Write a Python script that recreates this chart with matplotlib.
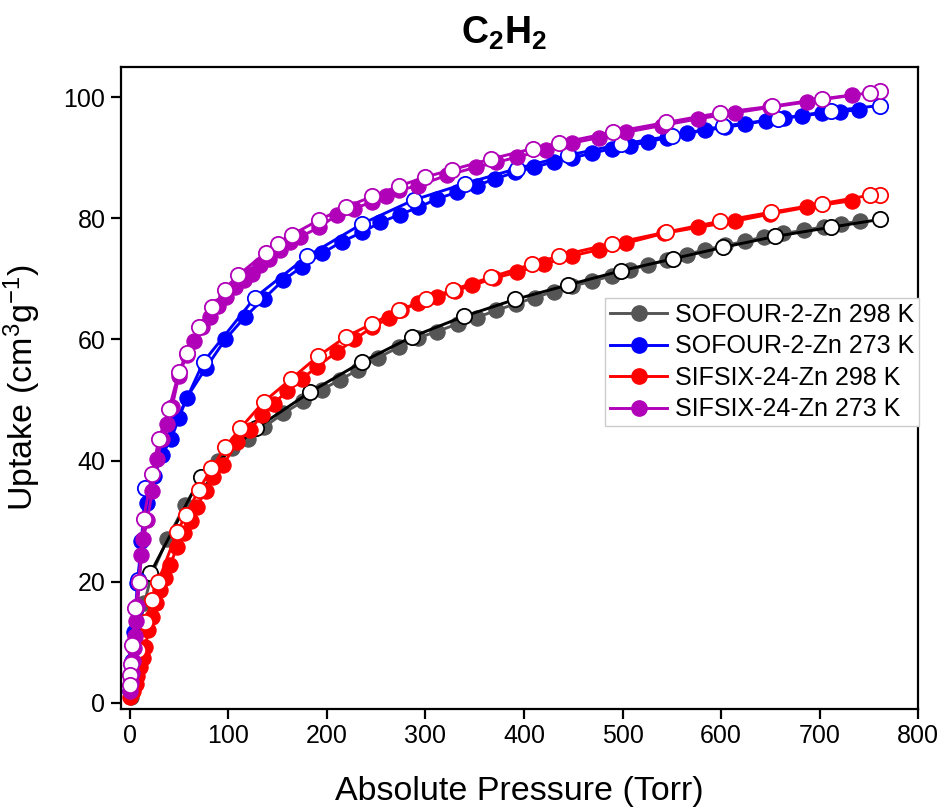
import matplotlib
matplotlib.use("Agg")
import matplotlib.pyplot as plt
from matplotlib.lines import Line2D

plt.rcParams["font.family"] = ["Liberation Sans", "DejaVu Sans"]
plt.rcParams["mathtext.fontset"] = "custom"
plt.rcParams["mathtext.rm"] = "Liberation Sans"
plt.rcParams["mathtext.it"] = "Liberation Sans"
plt.rcParams["mathtext.bf"] = "Liberation Sans:bold"

# =========================
# DATA
# =========================

labels = ["SOFOUR-2-Zn 298 K", "SOFOUR-2-Zn 273 K",
          "SIFSIX-24-Zn 298 K", "SIFSIX-24-Zn 273 K"]
colors = ["#555555", "#0000ff", "#ff0000", "#b000b8"]
des_colors = ["#000000", "#0000ff", "#ff0000", "#b000b8"]

# SOFOUR-2-Zn 298 K
gray_ads_x = [1, 3, 6, 10, 15, 22, 38, 56, 73, 90, 104, 120, 136, 156, 176, 195, 213, 232, 252, 273,
              293, 312, 333, 352, 372, 392, 411, 430, 449, 469, 489, 508, 526, 545, 565, 584, 604,
              624, 643, 663, 684, 704, 722, 741]
gray_ads_y = [1, 4, 8, 12.5, 16.5, 21, 27, 32.6, 37, 40, 42, 43.6, 45.5, 47.8, 49.8, 51.7, 53.3, 55,
              57, 58.7, 60.3, 61.3, 62.6, 63.6, 64.8, 65.9, 66.9, 67.9, 68.8, 69.6, 70.5, 71.5, 72.3,
              73.1, 74, 74.8, 75.5, 76.2, 76.9, 77.5, 78, 78.6, 79.1, 79.5]
gray_des_x = [761, 711, 655, 602, 551, 498, 445, 391, 339, 286, 236, 183, 128, 72, 21]
gray_des_y = [79.8, 78.5, 77.0, 75.2, 73.3, 71.3, 69.0, 66.6, 63.8, 60.4, 56.3, 51.3, 45.3, 37.3, 21.4]

# SOFOUR-2-Zn 273 K
blue_ads_x = [0.5, 1, 2, 3, 4.5, 6, 8, 12, 18, 25, 33, 42, 50, 58, 77, 97, 117, 136, 156, 175,
              195, 215, 236, 254, 274, 293, 312, 332, 352, 371, 391, 410, 430, 449, 469, 489, 508,
              526, 545, 565, 584, 604, 624, 645, 664, 682, 702, 721, 740]
blue_ads_y = [2, 4, 7, 9.5, 11.7, 15.6, 19.8, 26.8, 33, 37.5, 41, 43.5, 47, 50.4, 55.2, 60, 63.7,
              66.7, 69.8, 72, 74.2, 76.1, 77.7, 79.3, 80.6, 81.8, 83.2, 84.3, 85.4, 86.5, 87.6,
              88.4, 89.3, 90, 90.7, 91.5, 92, 92.6, 93.3, 94, 94.5, 95, 95.5, 96.1, 96.5, 96.9,
              97.3, 97.6, 97.9]
blue_des_x = [761, 711, 658, 602, 550, 498, 445, 393, 340, 288, 236, 180, 127, 75, 16, 9]
blue_des_y = [98.6, 97.7, 96.4, 95.2, 93.6, 92.2, 90.4, 88.2, 85.7, 83.0, 79.1, 73.7, 66.9, 56.3,
              35.4, 20.3]

# SIFSIX-24-Zn 298 K
red_ads_x = [0.7, 3, 6, 8, 11, 13.5, 16, 19, 23, 27, 31, 36, 41, 48, 55, 62, 68, 77, 85, 95,
             109, 122, 134, 146, 160, 175, 190, 210, 228, 246, 263, 275, 293, 312, 330, 347, 370,
             393, 420, 449, 476, 504, 542, 577, 614, 650, 687, 733]
red_ads_y = [1, 2, 3.2, 4.5, 5.9, 7.5, 9.2, 12, 14.2, 16.5, 18.6, 20.7, 22.7, 25.7, 28, 30.1,
             32.3, 35, 37.3, 39.3, 43, 45, 47.5, 49.4, 51.5, 53.5, 55.5, 57.9, 60, 62, 63.5, 64.8,
             66, 67, 68, 68.9, 70.1, 71.1, 72.4, 73.8, 74.8, 75.9, 77.5, 78.5, 79.5, 80.7, 81.8,
             82.9]
red_des_x = [761, 751, 702, 651, 599, 544, 489, 436, 408, 367, 328, 301, 273, 246, 219, 191,
             164, 136, 112, 97, 83, 70, 57, 48, 29, 23, 16, 9]
red_des_y = [83.9, 83.8, 82.4, 81.0, 79.5, 77.7, 75.8, 73.8, 72.4, 70.3, 68.2, 66.6, 64.8, 62.6,
             60.4, 57.2, 53.5, 49.7, 45.3, 42.2, 38.7, 35.1, 31.0, 28.2, 20.0, 17.0, 13.4, 8.7]

# SIFSIX-24-Zn 273 K
purple_ads_x = [0.5, 1, 2, 3, 4, 5, 6, 8, 10, 12, 14, 18, 23, 28, 33, 38, 43, 50, 58, 65, 73,
                82, 90, 98, 107, 116, 124, 132, 141, 153, 163, 173, 192, 210, 228, 246, 260, 273,
                293, 322, 351, 372, 393, 422, 449, 476, 504, 540, 577, 614, 650, 687, 733]
purple_ads_y = [2, 3.5, 5, 7, 9, 11, 13.5, 16, 20, 24.5, 27, 30.2, 35, 40.3, 43.5, 46, 48.8, 54,
                57.5, 59.8, 62, 63.7, 65.5, 67, 68.6, 69.8, 70.8, 72.2, 73.3, 74.8, 76, 76.9, 78.5,
                80.5, 81.6, 82.7, 83.6, 84.6, 85.4, 87.1, 88.4, 89.2, 90.1, 91.3, 92.4, 93.3, 94.2,
                95.3, 96.4, 97.4, 98.3, 99.2, 100.3]
purple_des_x = [761, 751, 702, 652, 599, 544, 490, 436, 409, 367, 327, 300, 273, 246, 219, 192,
                165, 151, 138, 110, 97, 84, 70, 58, 50, 40, 29.5, 22.7, 14.2, 9.2, 5.8, 2.4, 1.2,
                0.6, 0.2]
purple_des_y = [101.0, 100.7, 99.7, 98.5, 97.4, 95.8, 94.2, 92.4, 91.5, 89.8, 88.0, 86.8, 85.3,
                83.6, 81.8, 79.7, 77.3, 75.8, 74.3, 70.6, 68.1, 65.3, 62.0, 57.8, 54.6, 48.5, 43.5,
                37.8, 30.4, 20.0, 15.6, 9.5, 6.5, 4.6, 2.9]

ads = [(gray_ads_x, gray_ads_y), (blue_ads_x, blue_ads_y),
       (red_ads_x, red_ads_y), (purple_ads_x, purple_ads_y)]
des = [(gray_des_x, gray_des_y), (blue_des_x, blue_des_y),
       (red_des_x, red_des_y), (purple_des_x, purple_des_y)]

x_ticks = [0, 100, 200, 300, 400, 500, 600, 700, 800]
y_ticks = [0, 20, 40, 60, 80, 100]

# =========================
# PLOT
# =========================

fig = plt.figure(figsize=(9.44, 8.07), dpi=100)
ax = fig.add_axes([0.1279, 0.1214, 0.8449, 0.7959])

ms = 11
lw = 2.1

for i in range(4):
    ax.plot(ads[i][0], ads[i][1], "-o", color=colors[i], lw=lw, ms=ms,
            mfc=colors[i], mec=colors[i], mew=0.8)
    ax.plot(des[i][0], des[i][1], "-o", color=des_colors[i], lw=lw, ms=ms,
            mfc="white", mec=des_colors[i], mew=1.3)

ax.set_xlim(-9, 800)
ax.set_ylim(-1, 105)
ax.set_xticks(x_ticks)
ax.set_yticks(y_ticks)

for sp in ax.spines.values():
    sp.set_linewidth(1.6)
ax.tick_params(direction="out", length=7, width=1.6, labelsize=18, pad=4)

ax.set_xlabel("Absolute Pressure (Torr)", fontsize=24.5)
ax.set_ylabel("Uptake (cm$^{3}$g$^{-1}$)", fontsize=24.5)
ax.xaxis.set_label_coords(0.5, -0.104)
ax.yaxis.set_label_coords(-0.097, 0.5)

fig.text(504 / 944, 1 - 33 / 807, r"$\mathbf{C_2H_2}$", fontsize=27,
         ha="center", va="center")

handles = [Line2D([], [], color=colors[i], lw=lw, marker="o", ms=ms,
                  mfc=colors[i], mec=colors[i]) for i in range(4)]
leg = ax.legend(handles, labels, loc="upper left", bbox_to_anchor=(0.607, 0.640),
                borderaxespad=0, fontsize=18, handlelength=2.3, handletextpad=0.3,
                labelspacing=0.3, borderpad=0.2, fancybox=False, framealpha=1)
leg.get_frame().set_edgecolor("#cccccc")
leg.get_frame().set_linewidth(1.0)

plt.savefig("out.png", dpi=100)
plt.close()
